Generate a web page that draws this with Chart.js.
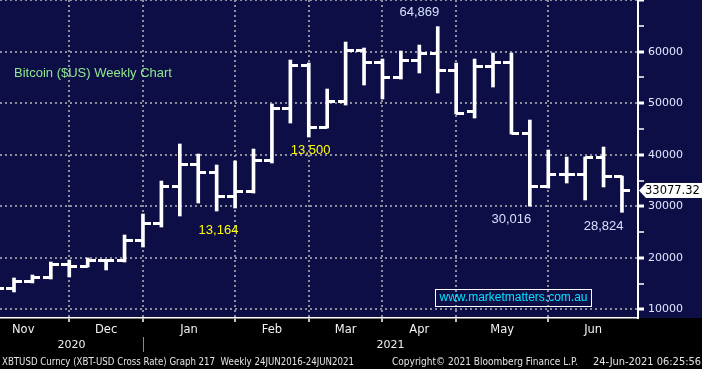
<!DOCTYPE html>
<html>
<head>
<meta charset="utf-8">
<script src="https://cdn.jsdelivr.net/npm/chart.js@4"></script>
<style>
  html, body { margin: 0; padding: 0; background: #000; }
  #wrap { position: relative; width: 702px; height: 369px; overflow: hidden; }
  #chart { position: absolute; left: 0; top: 0; }
  .web {
    position: absolute; left: 435px; top: 289px; width: 157px; height: 18px;
    box-sizing: border-box; border: 1.5px solid #fff; color: #00e4ff;
    font: 12px "Liberation Sans", Arial, sans-serif; line-height: 15px; text-align: center;
  }
  .foot {
    position: absolute; top: 355px; white-space: nowrap; color: #e4e4e4;
    font: 11px "DejaVu Sans", sans-serif; line-height: 14px; transform-origin: 0 0;
  }
</style>
</head>
<body>
<div id="wrap">
  <canvas id="chart" width="702" height="369"></canvas>
  <div class="web">www.marketmatters.com.au</div>
  <span class="foot" data-left="2" data-width="352">XBTUSD Curncy (XBT-USD Cross Rate) Graph 217&nbsp; Weekly 24JUN2016-24JUN2021</span>
  <span class="foot" data-left="392" data-width="186">Copyright© 2021 Bloomberg Finance L.P.</span>
  <span class="foot" data-left="593" data-width="108">24-Jun-2021 06:25:56</span>
</div>
<script>
// Weekly OHLC bars, Bitcoin in USD (index 0 = first week shown, partly off the left edge)
const opens = [13300, 13940, 15490, 16080, 18790, 18400, 19380, 19380, 23450, 26750, 33740, 38200,
  36650, 31990, 32770, 38790, 49070, 57420, 45380, 50240, 60330, 58000, 54900, 58200, 59750, 56450,
  48300, 57220, 58000, 44220, 33740, 36260, 36070, 39370, 35870];
const highs = [14100, 16080, 16660, 19180, 19570, 19960, 19570, 24420, 28500, 34900, 42090, 40140,
  38010, 38790, 41110, 49850, 58390, 57810, 52760, 61880, 60720, 58580, 60140, 61300, 64869, 57810,
  58580, 59750, 59750, 46740, 40920, 39560, 39560, 41500, 35870];
const lows = [13200, 13360, 15110, 15880, 16270, 18210, 17630, 19180, 22090, 25970, 28110, 30630,
  29080, 29660, 32570, 38400, 46160, 43440, 45190, 49650, 53540, 50820, 54700, 55870, 51980, 47910,
  47130, 53150, 44030, 30016, 33540, 34510, 31220, 33740, 28824];
const closes = [13940, 15490, 16080, 18790, 18400, 19380, 19380, 23450, 26560, 33740, 38200, 36650,
  31990, 32770, 38790, 49070, 57420, 45380, 50240, 60330, 58000, 54900, 58200, 59750, 56450, 48100,
  57220, 58000, 44220, 33740, 36260, 36070, 39370, 35870, 33077.32];

// Month names and the week index where each month starts
const monthNames = ["Nov", "Dec", "Jan", "Feb", "Mar", "Apr", "May", "Jun"];
const monthStarts = [-1, 4, 8, 13, 17, 21, 25, 30];
const yearNames = ["2020", "2021"];
const yTicks = [10000, 20000, 30000, 40000, 50000, 60000, 70000];

const X_MIN = 0.24;
const X_MAX = 34.87;
const NAVY = "#0e0e46";
const GRID = "#8e8e9c";

// Text notes placed in data coordinates (week index, price)
const notes = [
  { text: "Bitcoin ($US) Weekly Chart", x: 1, y: 55870, color: "#8fe88f", align: "left" },
  { text: "64,869", x: 23, y: 67700, color: "#d4e0ff" },
  { text: "13,500", x: 17.1, y: 40900, color: "#ffff00" },
  { text: "13,164", x: 12.1, y: 25400, color: "#ffff00" },
  { text: "30,016", x: 28, y: 27500, color: "#d4e0ff" },
  { text: "28,824", x: 33, y: 26000, color: "#d4e0ff" },
];

// Minor ticks sit halfway between the major ones.
const allYTicks = [];
yTicks.forEach((v, i) => {
  allYTicks.push(v);
  if (i < yTicks.length - 1) allYTicks.push((v + yTicks[i + 1]) / 2);
});

const monthCentres = monthStarts.map((s, i) => (s + (i < monthStarts.length - 1 ? monthStarts[i + 1] : X_MAX)) / 2);

// Open / close ticks as small images, left half or right half of a 16px strip.
const makeTick = (side) => {
  const c = document.createElement("canvas");
  c.width = 16;
  c.height = 3;
  const g = c.getContext("2d");
  g.fillStyle = "#fff";
  g.fillRect(side === "left" ? 0 : 8, 0, 8, 3);
  return c;
};

const isMajor = (v) => v % 10000 === 0;
const topTick = yTicks[yTicks.length - 1];

// Keep axis labels from pushing the plot area inwards.
const noPadding = (scale) => {
  scale.paddingTop = 0;
  scale.paddingBottom = 0;
  scale.paddingLeft = 0;
  scale.paddingRight = 0;
};

const backdrop = {
  id: "backdrop",
  beforeDraw(chart) {
    const { ctx, chartArea } = chart;
    ctx.save();
    ctx.fillStyle = "#000";
    ctx.fillRect(0, 0, chart.width, chart.height);
    ctx.fillStyle = NAVY;
    ctx.fillRect(0, 0, chart.width, chartArea.bottom);
    ctx.restore();
  },
};

const extras = {
  id: "extras",
  afterDraw(chart) {
    const { ctx, chartArea } = chart;
    const xs = chart.scales.x;
    const ys = chart.scales.y;
    ctx.save();

    // notes
    ctx.font = '13px "Liberation Sans", Arial, sans-serif';
    ctx.textBaseline = "middle";
    notes.forEach((n) => {
      ctx.fillStyle = n.color;
      ctx.textAlign = n.align || "center";
      ctx.fillText(n.text, xs.getPixelForValue(n.x), ys.getPixelForValue(n.y));
    });

    // years row
    const janX = xs.getPixelForValue(monthStarts[2]);
    ctx.font = '11px "DejaVu Sans", sans-serif';
    ctx.fillStyle = "#f0f0f0";
    ctx.textAlign = "center";
    ctx.fillText(yearNames[0], (chartArea.left + janX) / 2, 345);
    ctx.fillText(yearNames[1], (janX + chartArea.right) / 2, 345);
    ctx.strokeStyle = "#8a8a8a";
    ctx.lineWidth = 1;
    ctx.beginPath();
    ctx.moveTo(Math.round(janX) + 0.5, 337);
    ctx.lineTo(Math.round(janX) + 0.5, 352);
    ctx.stroke();

    // last price box
    const last = closes[closes.length - 1];
    const py = ys.getPixelForValue(last);
    const x0 = chartArea.right + 1;
    ctx.fillStyle = "#fff";
    ctx.beginPath();
    ctx.moveTo(x0, py);
    ctx.lineTo(x0 + 7, py - 7.5);
    ctx.lineTo(chart.width, py - 7.5);
    ctx.lineTo(chart.width, py + 7.5);
    ctx.lineTo(x0 + 7, py + 7.5);
    ctx.closePath();
    ctx.fill();
    ctx.fillStyle = "#000";
    ctx.textAlign = "left";
    ctx.font = '11.5px "DejaVu Sans", sans-serif';
    ctx.fillText(last.toFixed(2), x0 + 6, py + 0.5);

    ctx.restore();
  },
};

new Chart(document.getElementById("chart"), {
  type: "bar",
  data: {
    datasets: [
      {
        label: "High-Low",
        data: highs.map((h, i) => ({ x: i, y: [lows[i], h] })),
        backgroundColor: "#fff",
        borderWidth: 0,
        barThickness: 3,
        xAxisID: "x",
        yAxisID: "y",
      },
      {
        type: "scatter",
        label: "Open",
        data: opens.map((v, i) => ({ x: i, y: v })),
        pointStyle: makeTick("left"),
        pointRadius: 5,
        xAxisID: "x",
        yAxisID: "y",
      },
      {
        type: "scatter",
        label: "Close",
        data: closes.map((v, i) => ({ x: i, y: v })),
        pointStyle: makeTick("right"),
        pointRadius: 5,
        xAxisID: "x",
        yAxisID: "y",
      },
    ],
  },
  options: {
    responsive: false,
    animation: false,
    events: [],
    layout: { padding: 0, autoPadding: false },
    plugins: {
      legend: { display: false },
      tooltip: { enabled: false },
    },
    scales: {
      x: {
        type: "linear",
        position: "bottom",
        weight: 0,
        min: X_MIN,
        max: X_MAX,
        offset: false,
        afterBuildTicks: (scale) => {
          scale.ticks = monthStarts.slice(1).map((v) => ({ value: v }));
        },
        afterFit: (scale) => {
          scale.height = 0;
          noPadding(scale);
        },
        ticks: { display: false },
        grid: {
          offset: false,
          color: GRID,
          lineWidth: 2,
          tickLength: 4,
          tickColor: "#fff",
          tickWidth: 1.5,
        },
        border: { color: "#fff", width: 1.5, dash: [2, 3] },
      },
      xm: {
        type: "linear",
        position: "bottom",
        weight: 1,
        min: X_MIN,
        max: X_MAX,
        offset: false,
        afterBuildTicks: (scale) => {
          scale.ticks = monthCentres.map((v) => ({ value: v }));
        },
        afterFit: (scale) => {
          scale.height = 51;
          noPadding(scale);
        },
        ticks: {
          autoSkip: false,
          maxRotation: 0,
          padding: 5,
          color: "#f2f2f2",
          font: { family: "DejaVu Sans", size: 11.5 },
          callback: (value, index) => monthNames[index],
        },
        grid: { display: false, drawTicks: false },
        border: { display: false },
      },
      y: {
        type: "linear",
        position: "right",
        min: 8310,
        max: 70040,
        afterBuildTicks: (scale) => {
          scale.ticks = allYTicks.map((v) => ({ value: v }));
        },
        afterFit: (scale) => {
          scale.width = 64;
          noPadding(scale);
        },
        ticks: {
          autoSkip: false,
          padding: 4,
          color: "#e0e8ff",
          font: { family: "DejaVu Sans", size: 11 },
          callback: (value) => (isMajor(value) && value < topTick ? String(value) : ""),
        },
        grid: {
          color: (ctx) => (ctx.tick && isMajor(ctx.tick.value) ? GRID : "rgba(0,0,0,0)"),
          lineWidth: 2,
          tickLength: 6,
          tickColor: "#fff",
          tickWidth: (ctx) => (ctx.tick && isMajor(ctx.tick.value) ? 3 : 1.5),
        },
        border: { color: "#fff", width: 2, dash: [2, 3] },
      },
    },
  },
  plugins: [backdrop, extras],
});

// Squeeze the footer strings into the narrow widths they take in the terminal print.
document.querySelectorAll(".foot").forEach((el) => {
  const w = el.getBoundingClientRect().width;
  el.style.left = el.dataset.left + "px";
  el.style.transform = `scaleX(${el.dataset.width / w})`;
});
</script>
</body>
</html>
